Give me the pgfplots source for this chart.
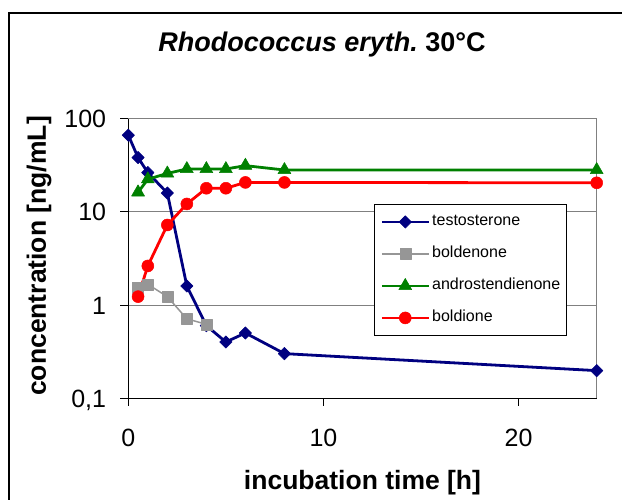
\documentclass[border=0pt]{standalone}
\usepackage{fontspec}
\setmainfont{Liberation Sans}
\usepackage{pgfplots}
\pgfplotsset{compat=1.18}
\definecolor{tnavy}{HTML}{000080}
\definecolor{bgray}{HTML}{969696}
\definecolor{agreen}{HTML}{008000}
\definecolor{bred}{HTML}{FF0000}
\definecolor{gridgray}{HTML}{808080}

\begin{document}
\begin{tikzpicture}
\useasboundingbox (0pt,0pt) rectangle (622pt,499pt);
% chart frame (only top and left edges are inside the picture)
\draw[line width=1.5pt] (9pt,-5pt) -- (9pt,486pt) -- (630pt,486pt);
\begin{axis}[
    at={(128.3pt,101pt)}, anchor=south west,
    scale only axis, width=468.4pt, height=279pt,
    ymode=log,
    xmin=0, xmax=24, ymin=0.1, ymax=100,
    axis x line*=bottom, axis y line*=left,
    axis line style={line width=1pt, -},
    xtick={0,10,20}, xticklabels={0,10,20},
    ytick={0.1,1,10,100}, yticklabels={{0,1},1,10,100},
    yminorticks=false,
    tick align=outside, major tick length=8pt,
    tick style={black, line width=1pt},
    ymajorgrids, grid style={gridgray, line width=1pt},
    extra x ticks={24}, extra x tick labels={},
    extra x tick style={grid=major, major tick length=0pt},
    xticklabel style={font=\fontsize{25}{30}\selectfont, anchor=base, inner sep=0pt, yshift=-41pt},
    yticklabel style={font=\fontsize{25}{30}\selectfont, anchor=east, inner sep=0pt,
        text height=18pt, text depth=0pt, xshift=-14pt},
    title={\textbf{\textit{Rhodococcus eryth.}}\ \textbf{30°C}},
    title style={at={(axis description cs:0.4135,1.2222)}, anchor=base,
        font=\fontsize{27}{32}\selectfont, inner sep=0pt},
    xlabel={incubation time [h]},
    xlabel style={at={(axis description cs:0.5,-0.3262)}, anchor=base,
        font=\bfseries\fontsize{26.5}{30}\selectfont, inner sep=0pt},
    ylabel={concentration [ng/mL]},
    ylabel style={at={(axis description cs:-0.1757,0.509)}, anchor=base,
        font=\bfseries\fontsize{26.5}{30}\selectfont, inner sep=0pt},
    clip=false,
    legend style={at={(rel axis cs:0.5245,0.6953)}, anchor=north west,
        draw=black, line width=0.8pt, fill=white,
        font=\fontsize{16}{19}\selectfont,
        inner xsep=6pt, inner ysep=10pt, row sep=17pt, column sep=2pt,
        nodes={inner sep=0pt, text height=11.5pt, text depth=3.5pt}},
    legend cell align=left,
    legend image code/.code={
        \draw[mark repeat=2, mark phase=2]
            plot coordinates {(0pt,0pt) (23.5pt,0pt) (47pt,0pt)};},
    every axis plot/.append style={line join=round},
]
\addplot[color=tnavy, line width=2.8pt, mark=square*, mark size=4.4pt,
    mark options={rotate=45, line width=0.5pt}] coordinates {
    (0,67) (0.5,38.5) (1,26.5) (2,16) (3,1.6) (4,0.6) (5,0.4) (6,0.5) (8,0.3) (24,0.197)
};
\addlegendentry{testosterone}
\addplot[color=bgray, line width=1.5pt, mark=square*, mark size=5.5pt,
    mark options={line width=0.5pt}] coordinates {
    (0.5,1.55) (1,1.67) (2,1.23) (3,0.71) (4,0.62)
};
\addlegendentry{boldenone}
\addplot[color=agreen, line width=2.8pt, mark=triangle*, mark size=7.5pt,
    mark options={line width=0.5pt}] coordinates {
    (0.5,16.3) (1,22.5) (2,26) (3,29) (4,29) (5,29) (6,31.5) (8,28.3) (24,28.3)
};
\addlegendentry{androstendienone}
\addplot[color=bred, line width=2.8pt, mark=*, mark size=6pt,
    mark options={line width=0.5pt}] coordinates {
    (0.5,1.23) (1,2.63) (2,7.25) (3,12.2) (4,18) (5,18) (6,20.8) (8,20.8) (24,20.6)
};
\addlegendentry{boldione}
\end{axis}
\end{tikzpicture}
\end{document}
